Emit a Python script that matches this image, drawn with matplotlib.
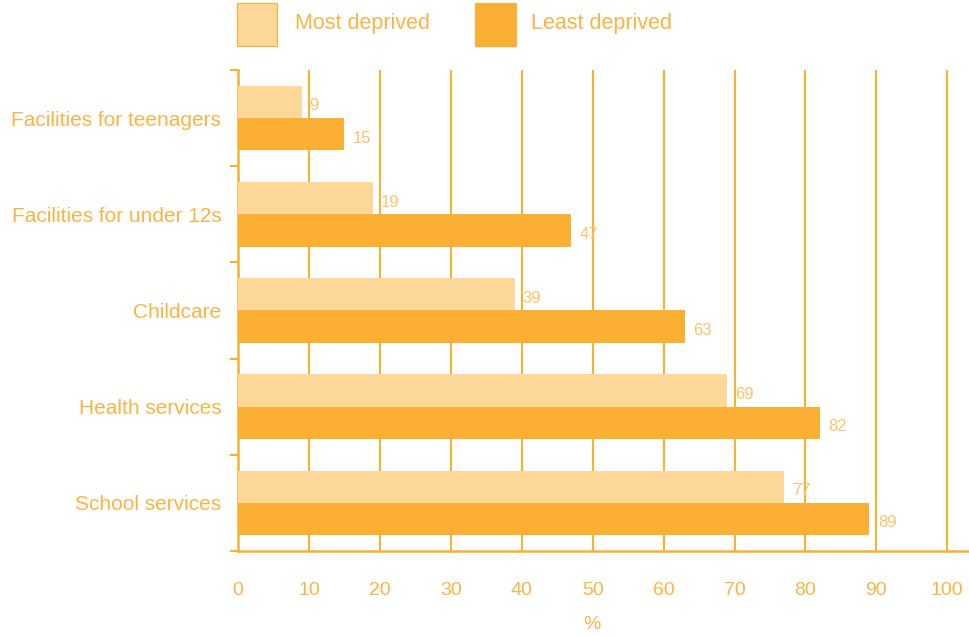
import matplotlib
matplotlib.use("Agg")
import matplotlib.pyplot as plt
import numpy as np
from matplotlib.patches import Rectangle

categories = ["Facilities for teenagers", "Facilities for under 12s", "Childcare",
              "Health services", "School services"]
most_deprived = [9, 19, 39, 69, 77]
least_deprived = [15, 47, 63, 82, 89]
series_names = ["Most deprived", "Least deprived"]
xticks = [0, 10, 20, 30, 40, 50, 60, 70, 80, 90, 100]

light = "#FDD898"
dark = "#FBB034"
txt = "#FBB444"
vtxt = "#FDC366"
line = "#FBB034"

plt.rcParams['font.family'] = ['Liberation Sans', 'DejaVu Sans']

fig = plt.figure(figsize=(9.7, 6.37), dpi=100)
ax = fig.add_axes([238/970, 1-551/637, (970-238)/970, (551-70)/637])

n = len(categories)
y = np.arange(n)
h = 0.335
ax.barh(y - h/2, most_deprived, height=h, color=light, zorder=3)
ax.barh(y + h/2, least_deprived, height=h, color=dark, zorder=3)

for i in range(n):
    ax.text(most_deprived[i] + 1.1, y[i] - h/2 + 0.04, str(most_deprived[i]),
            color=vtxt, fontsize=12, va='center', ha='left', zorder=4)
    ax.text(least_deprived[i] + 1.2, y[i] + h/2 + 0.04, str(least_deprived[i]),
            color=vtxt, fontsize=12, va='center', ha='left', zorder=4)

ax.set_ylim(n - 0.5, -0.5)
ax.set_xlim(0, 103.2)
ax.set_yticks(y)
ax.set_yticklabels(categories)
ax.set_yticks(np.arange(-0.5, n, 1), minor=True)
ax.tick_params(axis='y', which='major', length=0, pad=12, labelsize=15, labelcolor=txt)
ax.tick_params(axis='y', which='minor', length=6, width=1.5, color=line)

ax.set_xticks(xticks)
ax.tick_params(axis='x', length=0, pad=22, labelsize=14, labelcolor=txt)
ax.grid(axis='x', color=line, linewidth=1.5, zorder=0)
ax.set_xlabel("%", color=txt, fontsize=14)
ax.xaxis.set_label_coords(0.484, -0.135)

for s in ['top', 'right']:
    ax.spines[s].set_visible(False)
for s in ['left', 'bottom']:
    ax.spines[s].set_color(line)
    ax.spines[s].set_linewidth(1.8)

# legend
fig.patches.append(Rectangle((237/970, 1-46/637), 40/970, 43/637, transform=fig.transFigure,
                             facecolor=light, edgecolor=dark, linewidth=0.8))
fig.text(295/970, 1-23/637, series_names[0], color=txt, fontsize=15.5, va='center', ha='left')
fig.patches.append(Rectangle((475/970, 1-46/637), 41/970, 43/637, transform=fig.transFigure,
                             facecolor=dark, edgecolor=dark, linewidth=0.8))
fig.text(531/970, 1-23/637, series_names[1], color=txt, fontsize=15.5, va='center', ha='left')

fig.savefig("out.png", dpi=100)
